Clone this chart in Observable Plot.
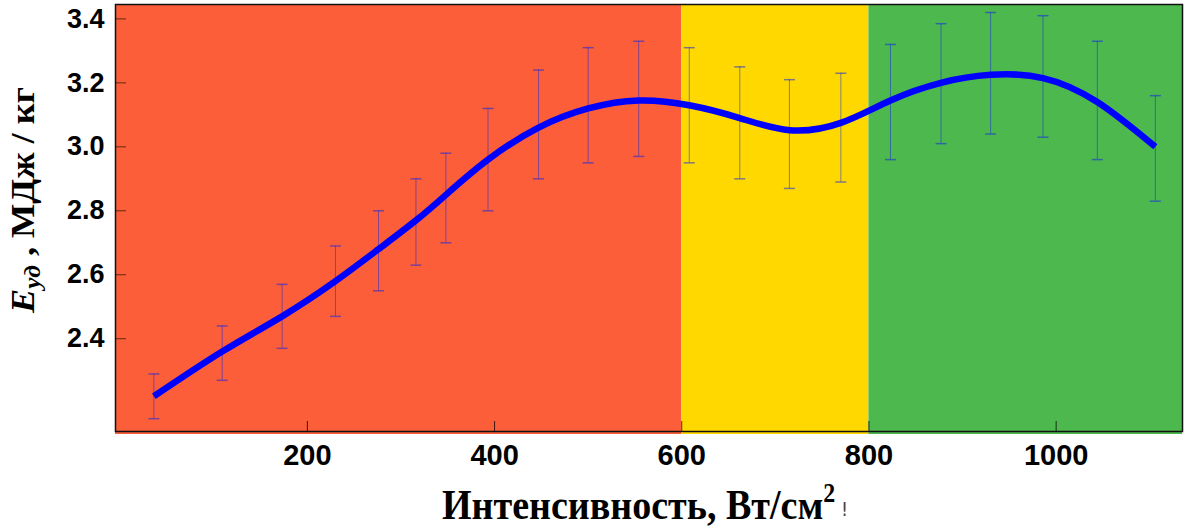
<!DOCTYPE html>
<html>
<head>
<meta charset="utf-8">
<script src="https://cdn.jsdelivr.net/npm/d3@7"></script>
<script src="https://cdn.jsdelivr.net/npm/@observablehq/plot@0.6"></script>
<style>
  html, body { margin: 0; padding: 0; background: #fff; }
  #chart svg { display: block; }
</style>
</head>
<body>
<div id="chart"></div>
<script>
// Intensity (W/cm²) at each measurement
const intensity = [36, 109, 173, 230, 276, 316, 348, 393, 447, 500, 554, 608, 662, 715, 770, 823, 877, 930, 986, 1044, 1106];
// Upper / lower ends of the error bars (MJ/kg)
const errHigh = [2.29, 2.44, 2.57, 2.69, 2.80, 2.90, 2.98, 3.12, 3.24, 3.31, 3.33, 3.31, 3.25, 3.21, 3.23, 3.32, 3.385, 3.42, 3.41, 3.33, 3.16];
const errLow  = [2.15, 2.27, 2.37, 2.47, 2.55, 2.63, 2.70, 2.80, 2.90, 2.95, 2.97, 2.95, 2.90, 2.87, 2.89, 2.96, 3.01, 3.04, 3.03, 2.96, 2.83];
// Fitted curve value at each intensity
const fitValue = [2.22, 2.36, 2.47, 2.58, 2.68, 2.77, 2.85, 2.96, 3.06, 3.12, 3.145, 3.13, 3.09, 3.052, 3.075, 3.145, 3.20, 3.225, 3.215, 3.14, 3.0];
// Background zones
const zoneStart = [-5, 600, 800];
const zoneEnd   = [600, 800, 1135];
const zoneColor = ["#FB5E39", "#FFD800", "#4DB84E"];
// Axis ticks
const xTicks = [200, 400, 600, 800, 1000];
const yTicks = [2.4, 2.6, 2.8, 3.0, 3.2, 3.4];

const points = intensity.map((x, i) => ({x, hi: errHigh[i], lo: errLow[i], fit: fitValue[i]}));
const zones = zoneStart.map((x1, i) => ({x1, x2: zoneEnd[i], color: zoneColor[i]}));

const capSymbol = {
  draw(ctx, size) {
    const w = Math.sqrt(size / Math.PI);
    ctx.moveTo(-w, 0);
    ctx.lineTo(w, 0);
  }
};

const errColor = "rgb(20,40,230)";

const chart = Plot.plot({
  width: 1184,
  height: 529,
  marginLeft: 115,
  marginRight: 2,
  marginTop: 4,
  marginBottom: 98,
  x: {domain: [-5, 1135], label: null},
  y: {domain: [2.11, 3.445], label: null},
  marks: [
    Plot.rect(zones, {x1: "x1", x2: "x2", fill: "color", insetBottom: -3}),
    Plot.ruleX(points, {x: "x", y1: "lo", y2: "hi", stroke: errColor, strokeOpacity: 0.5, strokeWidth: 1}),
    Plot.dot(points, {x: "x", y: "hi", symbol: capSymbol, r: 5.5, stroke: errColor, strokeOpacity: 0.55, strokeWidth: 1.5, fill: "none"}),
    Plot.dot(points, {x: "x", y: "lo", symbol: capSymbol, r: 5.5, stroke: errColor, strokeOpacity: 0.55, strokeWidth: 1.5, fill: "none"}),
    Plot.line(points, {x: "x", y: "fit", curve: "natural", stroke: "#0000FF", strokeWidth: 6.5, strokeLinecap: "butt"}),
    Plot.axisX({ticks: xTicks, tickFormat: d3.format("d"), tickSize: -10, tickPadding: 23, fontSize: 29, fontWeight: "bold",
      fontFamily: "Liberation Sans, Arial, sans-serif", stroke: "#000", strokeOpacity: 0.75, fill: "#000", label: null}),
    Plot.axisY({ticks: yTicks, tickFormat: d3.format(".1f"), tickSize: -11, tickPadding: 22, fontSize: 27, fontWeight: "bold",
      fontFamily: "Liberation Sans, Arial, sans-serif", stroke: "#000", strokeOpacity: 0.6, fill: "#000", label: null}),
    Plot.frame({stroke: "#111", strokeWidth: 1.5})
  ]
});

document.getElementById("chart").appendChild(chart);

const svg = d3.select(chart);
// Y axis title
const yt = svg.append("text")
  .attr("transform", "translate(34,200) rotate(-90)")
  .attr("text-anchor", "middle")
  .attr("font-family", "Liberation Serif, Times New Roman, serif")
  .attr("font-weight", "bold")
  .attr("font-size", 33)
  .attr("fill", "#000")
  .attr("textLength", 226)
  .attr("lengthAdjust", "spacingAndGlyphs");
yt.append("tspan").attr("font-style", "italic").text("E");
yt.append("tspan").attr("font-style", "italic").attr("font-size", 23).attr("dy", 6).text("уд");
yt.append("tspan").attr("dy", -6).text(" , МДж / кг");

// X axis title (with the stray mark that follows it in the original)
const xt = svg.append("text")
  .attr("x", 645)
  .attr("y", 519)
  .attr("text-anchor", "middle")
  .attr("font-family", "Liberation Serif, Times New Roman, serif")
  .attr("font-weight", "bold")
  .attr("font-size", 43)
  .attr("fill", "#000")
  .attr("textLength", 406)
  .attr("lengthAdjust", "spacingAndGlyphs");
xt.append("tspan").text("Интенсивность, Вт/см");
xt.append("tspan").attr("font-size", 27).attr("dy", -17).text("2");
xt.append("tspan").attr("font-size", 20).attr("font-weight", "normal").attr("fill", "#444")
  .attr("font-family", "DejaVu Sans, sans-serif").attr("dy", 14).text(" !");
</script>
</body>
</html>
